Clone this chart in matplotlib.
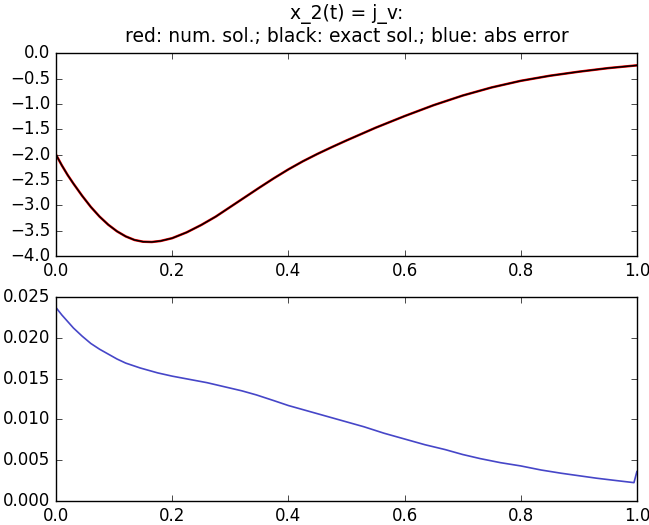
import matplotlib
matplotlib.use('Agg')
import matplotlib.pyplot as plt
import numpy as np

# values
t_sol = [0.00, 0.01, 0.02, 0.03, 0.045, 0.06, 0.075, 0.09, 0.105, 0.12, 0.135, 0.15,
         0.165, 0.18, 0.20, 0.225, 0.25, 0.275, 0.30, 0.325, 0.35, 0.375, 0.40, 0.425,
         0.45, 0.475, 0.50, 0.55, 0.60, 0.65, 0.70, 0.75, 0.80, 0.85, 0.90, 0.95, 1.00]
x_exact = [-2.00, -2.21, -2.40, -2.57, -2.81, -3.03, -3.22, -3.38, -3.51, -3.61, -3.68,
           -3.715, -3.72, -3.70, -3.645, -3.53, -3.385, -3.22, -3.03, -2.84, -2.65, -2.465,
           -2.29, -2.13, -1.985, -1.85, -1.72, -1.47, -1.24, -1.025, -0.835, -0.675, -0.545,
           -0.445, -0.365, -0.295, -0.24]
x_num = [-2.00, -2.21, -2.40, -2.57, -2.81, -3.03, -3.22, -3.38, -3.51, -3.61, -3.68,
         -3.715, -3.72, -3.70, -3.645, -3.53, -3.385, -3.22, -3.03, -2.84, -2.65, -2.465,
         -2.29, -2.13, -1.985, -1.85, -1.72, -1.47, -1.24, -1.025, -0.835, -0.675, -0.545,
         -0.445, -0.365, -0.295, -0.24]

t_err = [0.00, 0.01, 0.02, 0.03, 0.045, 0.06, 0.075, 0.09, 0.105, 0.12, 0.145, 0.175,
         0.20, 0.23, 0.26, 0.29, 0.32, 0.345, 0.375, 0.40, 0.43, 0.46, 0.49, 0.53, 0.565,
         0.60, 0.635, 0.67, 0.70, 0.73, 0.765, 0.80, 0.835, 0.87, 0.90, 0.93, 0.965,
         0.995, 1.00]
abs_err = [0.0237, 0.0228, 0.0220, 0.0212, 0.0202, 0.0193, 0.0186, 0.0180, 0.0174,
           0.0169, 0.0163, 0.0157, 0.0153, 0.0149, 0.0145, 0.0140, 0.0135, 0.0130,
           0.0123, 0.0117, 0.0111, 0.0105, 0.0099, 0.0091, 0.0083, 0.0076, 0.0069,
           0.0063, 0.0057, 0.0052, 0.0047, 0.0043, 0.0038, 0.0034, 0.0031, 0.0028,
           0.0025, 0.00225, 0.0036]

plt.style.use('classic')
fig = plt.figure(figsize=(6.49, 5.25), dpi=100, facecolor='white')

ax1 = fig.add_axes([0.0863, 0.512, 0.895, 0.3867])
ax1.plot(t_sol, x_num, color='red', lw=1.8)
ax1.plot(t_sol, x_exact, color='black', lw=1.1)
ax1.set_xlim(0, 1)
ax1.set_ylim(-4, 0)
ax1.set_yticks(np.arange(-4.0, 0.01, 0.5))
ax1.set_title('x_2(t) = j_v:\nred: num. sol.; black: exact sol.; blue: abs error',
              fontsize=13.5, pad=8)

ax2 = fig.add_axes([0.0863, 0.0457, 0.895, 0.3886])
ax2.plot(t_err, abs_err, color='#4646c8', lw=1.2)
ax2.set_xlim(0, 1)
ax2.set_ylim(0, 0.025)

fig.savefig('out.png', dpi=100, facecolor='white')
